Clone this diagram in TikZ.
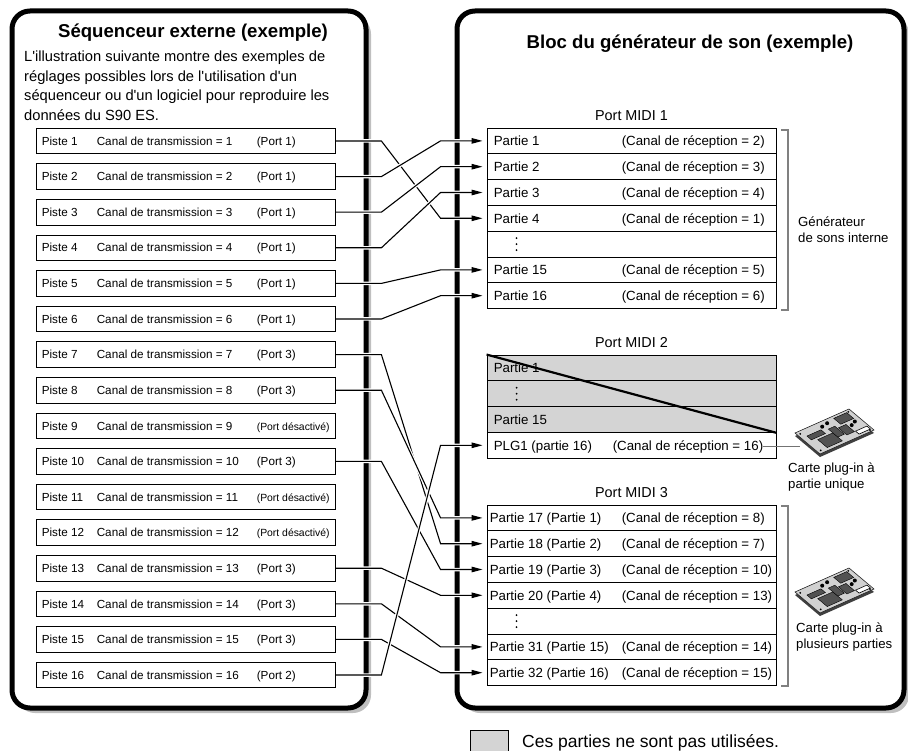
\documentclass[tikz,border=0pt]{standalone}
\usepackage{fontspec}
\setmainfont{Liberation Sans}
\usetikzlibrary{arrows.meta,calc,shadows}

\tikzset{
  panel/.style={draw, line width=5pt, rounded corners=18pt, fill=white, inner sep=0pt,
    drop shadow={shadow xshift=5pt, shadow yshift=-5pt, fill=black!25, opacity=1}},
  track/.style={draw, line width=0.8pt, fill=white, minimum width=299pt, minimum height=25.5pt, inner sep=0pt},
  part/.style={draw, line width=0.9pt, fill=white, minimum width=289pt, minimum height=25.8pt, inner sep=0pt},
  unused/.style={part, fill=black!17},
  link/.style={line width=1.1pt, -{Triangle[length=11pt,width=5.5pt]}, shorten >=4pt,
    preaction={draw=white, line width=3.5pt, -, shorten <=1.5pt, shorten >=16pt}},
  bracket/.style={draw=black!50, line width=2pt},
  cardlink/.style={draw=black!55, line width=1.6pt},
  chip/.style={fill=black!68, draw=black, line width=0.4pt},
  ttl/.style={font=\fontsize{18.6}{22}\selectfont\bfseries, inner sep=0pt, anchor=base},
  para/.style={font=\fontsize{14.7}{19.7}\selectfont, inner sep=0pt, anchor=base west},
  tracktxt/.style={font=\fontsize{11.7}{14}\selectfont, inner sep=0pt, anchor=base west},
  offtxt/.style={font=\fontsize{10.4}{12}\selectfont, inner sep=0pt, anchor=base west},
  parttxt/.style={font=\fontsize{13.3}{16}\selectfont, inner sep=0pt, anchor=base west},
  porttxt/.style={font=\fontsize{14.4}{17}\selectfont, inner sep=0pt, anchor=base},
  sidetxt/.style={font=\fontsize{13.2}{16}\selectfont, inner sep=0pt, anchor=base west},
  keytxt/.style={font=\fontsize{17.5}{21}\selectfont, inner sep=0pt, anchor=base west},
  % little plug-in board seen from above
  plugcard/.pic={
    \begin{scope}[x={(54pt,24pt)}, y={(25pt,-21pt)}]
      \fill[black!75, yshift=-3pt] (0,0) -- (1,0) -- (1,1) -- (0,1) -- cycle;
      \filldraw[fill=black!18, draw=black!85, line width=0.6pt] (0,0) -- (1,0) -- (1,1) -- (0,1) -- cycle;
      \foreach \a/\b/\c/\d in {0.10/0.26/0.36/0.44, 0.18/0.52/0.46/0.90, 0.46/0.34/0.58/0.72,
                               0.60/0.44/0.74/0.78, 0.68/0.08/0.92/0.36}
        \filldraw[chip] (\a,\b) -- (\c,\b) -- (\c,\d) -- (\a,\d) -- cycle;
      \filldraw[fill=white, draw=black, line width=0.6pt] (0.76,0.78) -- (0.97,0.78) -- (0.97,0.92) -- (0.76,0.92) -- cycle;
      \foreach \a/\b in {0.42/0.18, 0.53/0.14, 0.80/0.54, 0.89/0.47}
        \fill (\a,\b) circle (2pt);
      \foreach \a/\b in {0.05/0.10, 0.95/0.08, 0.95/0.95, 0.06/0.90}
        \fill (\a,\b) circle (1pt);
    \end{scope}
  }
}

\begin{document}
\begin{tikzpicture}[x=1pt, y=-1pt]
\useasboundingbox (0,0) rectangle (908,751);
%\draw[very thin,color=gray] (0,0) grid[step=50] (908,751);

% the two frames
\node[panel, minimum width=354pt, minimum height=697pt] (seq) at (189,359.5) {};
\node[panel, minimum width=447pt, minimum height=697pt] (gen) at (680.5,359.5) {};

\node[ttl] (seqtitle) at (193,38) {Séquenceur externe (exemple)};
\node[para] (intro) at (24,61.5) {\begin{tabular}[t]{@{}l@{}}
  L\textquotesingle illustration suivante montre des exemples de\\
  réglages possibles lors de l\textquotesingle utilisation d\textquotesingle un\\
  séquenceur ou d\textquotesingle un logiciel pour reproduire les\\
  données du S90 ES.\end{tabular}};
\node[ttl] (gentitle) at (690,49) {Bloc du générateur de son (exemple)};

% sequencer tracks, 0 = port off
\foreach \i/\p in {1/1,2/1,3/1,4/1,5/1,6/1,7/3,8/3,9/0,10/3,11/0,12/0,13/3,14/3,15/3,16/2}{
  \node[track] (t\i) at (185.5,{141+(\i-1)*35.6}) {};
  \node[tracktxt] (pn\i) at ($(t\i.west)+(6,4.2)$) {Piste \i};
  \node[tracktxt] (ch\i) at ($(t\i.west)+(61,4.2)$) {Canal de transmission = \i};
  \ifnum\p=0
    \node[offtxt] (po\i) at ($(t\i.west)+(221,4.2)$) {(Port désactivé)};
  \else
    \node[tracktxt] (po\i) at ($(t\i.west)+(221,4.2)$) {(Port \p)};
  \fi
}

% port 1
\foreach \r/\n/\lab/\rx in {0/p1/Partie 1/2, 1/p2/Partie 2/3, 2/p3/Partie 3/4, 3/p4/Partie 4/1,
                            5/p15/Partie 15/5, 6/p16/Partie 16/6}{
  \node[part] (\n) at (631.5,{128+(\r+0.5)*25.8}) {};
  \node[parttxt] (\n-a) at ($(\n.west)+(7,4.8)$) {\lab};
  \node[parttxt] (\n-b) at ($(\n.west)+(135,4.8)$) {(Canal de réception = \rx)};
}
\node[part] (p1dots) at (631.5,{128+4.5*25.8}) {};
\foreach \d in {-6,0,6} \fill ($(p1dots.west)+(30,\d)$) circle (1pt);
\node[porttxt] (port1) at ($(p1.north)+(0,-7.5)$) {Port MIDI 1};
\draw[bracket] ($(p1.north east)+(5,2)$) -| ($(p16.south east)+(12,1)$) -- ++(-7,0);
\node[sidetxt] (intgen) at (798,227) {\begin{tabular}[t]{@{}l@{}}Générateur\\de sons interne\end{tabular}};

% port 2
\node[unused] (q1) at (631.5,{355+0.5*25.8}) {};
\node[unused] (qdots) at (631.5,{355+1.5*25.8}) {};
\node[unused] (q15) at (631.5,{355+2.5*25.8}) {};
\node[part] (plg) at (631.5,{355+3.5*25.8}) {};
\node[parttxt] (q1-a) at ($(q1.west)+(7,4.8)$) {Partie 1};
\foreach \d in {-6,0,6} \fill ($(qdots.west)+(30,\d)$) circle (1pt);
\node[parttxt] (q15-a) at ($(q15.west)+(7,4.8)$) {Partie 15};
\node[parttxt] (plg-a) at ($(plg.west)+(7,4.8)$) {PLG1 (partie 16)};
\node[parttxt] (plg-b) at ($(plg.west)+(126,4.8)$) {(Canal de réception = 16)};
\draw[line width=2.2pt] (q1.north west) -- (q15.south east);
\node[porttxt] (port2) at ($(q1.north)+(0,-7.5)$) {Port MIDI 2};
\pic at (795,433) {plugcard};
\coordinate (card1in) at (800,444);
\draw[cardlink] (plg-b.east) -- (plg-b.east -| card1in);
\node[sidetxt] (card1) at (788,472) {\begin{tabular}[t]{@{}l@{}}Carte plug-in à\\partie unique\end{tabular}};

% port 3
\foreach \r/\n/\lab/\rx in {0/p17/Partie 17 (Partie 1)/8, 1/p18/Partie 18 (Partie 2)/7,
                            2/p19/Partie 19 (Partie 3)/10, 3/p20/Partie 20 (Partie 4)/13,
                            5/p31/Partie 31 (Partie 15)/14, 6/p32/Partie 32 (Partie 16)/15}{
  \node[part] (\n) at (631.5,{505+(\r+0.5)*25.8}) {};
  \node[parttxt] (\n-a) at ($(\n.west)+(3,4.8)$) {\lab};
  \node[parttxt] (\n-b) at ($(\n.west)+(135,4.8)$) {(Canal de réception = \rx)};
}
\node[part] (p3dots) at (631.5,{505+4.5*25.8}) {};
\foreach \d in {-6,0,6} \fill ($(p3dots.west)+(30,\d)$) circle (1pt);
\node[porttxt] (port3) at ($(p17.north)+(0,-7.5)$) {Port MIDI 3};
\draw[bracket] ($(p17.north east)+(5,1)$) -| ($(p32.south east)+(12,0)$) -- ++(-7,0);
\pic at (795,592) {plugcard};
\node[sidetxt] (card2) at (796,632) {\begin{tabular}[t]{@{}l@{}}Carte plug-in à\\plusieurs parties\end{tabular}};

% channel routing
\foreach \a/\b in {1/p4,2/p1,3/p2,4/p3,5/p15,6/p16,7/p18,8/p17,10/p19,13/p20,14/p31,15/p32,16/plg}
  \draw[link] (t\a.east) -- ++(46,0) -- ($(\b.west)+(-46,0)$) -- (\b.west);

% key
\node[unused, minimum width=38pt, minimum height=26pt, anchor=north west] (key) at (470,730) {};
\node[keytxt] (keylab) at (522,747) {Ces parties ne sont pas utilisées.};

\end{tikzpicture}
\end{document}
